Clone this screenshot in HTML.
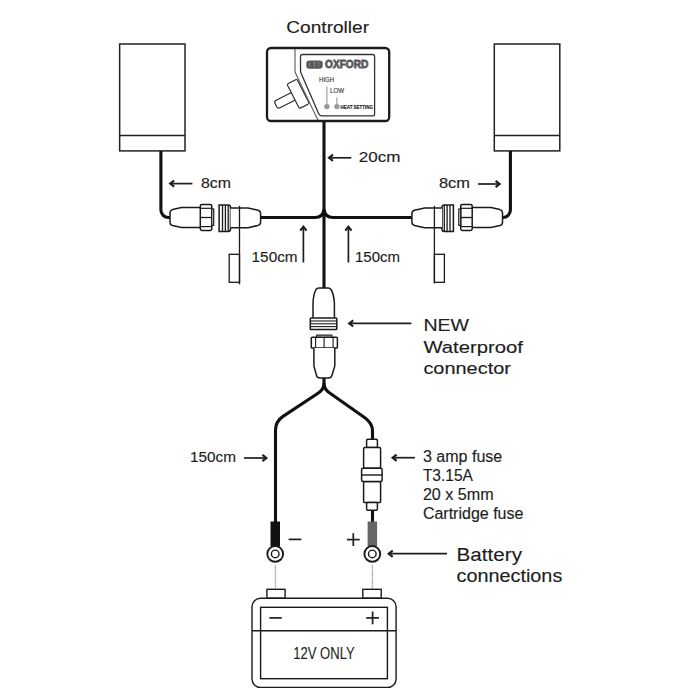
<!DOCTYPE html>
<html><head><meta charset="utf-8">
<style>
html,body{margin:0;padding:0;background:#fff;}
svg{display:block;}
text{font-family:"Liberation Sans",sans-serif;fill:#1e1e1e;stroke:#1e1e1e;stroke-width:0.15px;}
</style></head>
<body>
<svg width="700" height="700" viewBox="0 0 700 700">
<rect width="700" height="700" fill="#fff"/>
<defs>
  <g id="conn">
    <!-- body A -->
    <path d="M200.4,207.6 L181.5,207.6 L172.6,209.6 Q170,210.3 170,213 L170,222.2 Q170,224.9 172.6,225.6 L181.5,227.6 L200.4,227.6" fill="#fff" stroke="#1a1a1a" stroke-width="1.5"/>
    <!-- nut -->
    <rect x="200.3" y="204.5" width="11.5" height="25.9" rx="1.6" fill="#fff" stroke="#1a1a1a" stroke-width="1.5"/>
    <line x1="200.3" y1="208.3" x2="211.8" y2="208.3" stroke="#1a1a1a" stroke-width="1.2"/>
    <line x1="200.3" y1="217.5" x2="211.8" y2="217.5" stroke="#1a1a1a" stroke-width="1.3"/>
    <line x1="200.3" y1="226.6" x2="211.8" y2="226.6" stroke="#1a1a1a" stroke-width="1.2"/>
    <rect x="211.8" y="209" width="1.9" height="16.4" fill="#fff" stroke="#1a1a1a" stroke-width="1.2"/>
    <!-- thread -->
    <path d="M219.1,205.1 L228.3,205.1 Q230.5,205.1 230.5,207.3 L230.5,229.2 Q230.5,231.4 228.3,231.4 L219.1,231.4 Z" fill="#fff" stroke="#1a1a1a" stroke-width="1.5"/>
    <line x1="222.5" y1="205.1" x2="222.5" y2="231.4" stroke="#1a1a1a" stroke-width="1.3"/>
    <line x1="225.4" y1="205.1" x2="225.4" y2="231.4" stroke="#1a1a1a" stroke-width="1.3"/>
    <line x1="228.2" y1="205.1" x2="228.2" y2="231.4" stroke="#1a1a1a" stroke-width="1.3"/>
    <!-- body B -->
    <path d="M230.5,207.9 L248,207.9 L258,210.2 Q260.6,210.9 260.6,213.6 L260.6,222 Q260.6,224.7 258,225.4 L248,227.8 L230.5,227.8" fill="#fff" stroke="#1a1a1a" stroke-width="1.5"/>
  </g>
  <g id="up">
    <line x1="0" y1="0.8" x2="0" y2="36.5" stroke="#1e1e1e" stroke-width="1.7"/>
    <path d="M-3.1,4.6 L0,0.6 L3.1,4.6" fill="none" stroke="#1e1e1e" stroke-width="2.1"/>
  </g>
</defs>

<!-- Controller label -->
<text x="286.3" y="32.6" font-size="17.4" textLength="82.8" lengthAdjust="spacingAndGlyphs">Controller</text>

<!-- Heated grip boxes -->
<rect x="119.65" y="44" width="65.35" height="106.9" fill="none" stroke="#222" stroke-width="1.5"/>
<line x1="119.6" y1="135.4" x2="185" y2="135.4" stroke="#222" stroke-width="1.5"/>
<rect x="494.3" y="44" width="65.5" height="106.9" fill="none" stroke="#222" stroke-width="1.5"/>
<line x1="494.3" y1="135.4" x2="559.8" y2="135.4" stroke="#222" stroke-width="1.5"/>

<!-- wires -->
<g fill="none" stroke="#111" stroke-width="3.1">
  <path d="M160.9,151 L160.9,210 A7.5,7.5 0 0 0 168.4,217.5 L171,217.5"/>
  <path d="M510.4,151 L510.4,210 A7.5,7.5 0 0 1 502.9,217.5 L501,217.5"/>
  <path d="M324,121 L324,288"/>
  <path d="M259,217.5 L315,217.5 Q323,217.5 324,209.5"/>
  <path d="M412,217.5 L333,217.5 Q325,217.5 324,209.5"/>
  <path d="M324,378 L324,383 C324,388.5 321.5,391 316.5,394.3 L283,416.4 Q275.5,421.5 275.5,430 L275.5,522"/>
  <path d="M324,383 C324,388.5 326.5,391 331.5,394.3 L364.5,417.5 Q372.5,423 372.5,431 L372.5,440"/>
  <path d="M372.5,510 L372.5,522"/>
</g>

<!-- connectors -->
<use href="#conn"/>
<use href="#conn" transform="translate(672.5,0) scale(-1,1)"/>

<!-- vertical ticks & small rects -->
<g fill="none" stroke="#1a1a1a" stroke-width="1.3">
  <line x1="239.5" y1="205.8" x2="239.5" y2="284.3"/>
  <rect x="229.2" y="254.3" width="10.3" height="28"/>
  <line x1="434.4" y1="205.8" x2="434.4" y2="283.5"/>
  <rect x="434.4" y="254.3" width="10" height="28"/>
</g>

<!-- labels top -->
<g stroke="#1e1e1e" stroke-width="1.7" fill="none" stroke-linejoin="miter">
  <path d="M351.3,157.8 L329.2,157.8"/>
  <path d="M333.0,154.70000000000002 L329.0,157.8 L333.0,160.9" stroke-width="2.1"/>
  <path d="M192.4,183.6 L170.4,183.6"/>
  <path d="M174.2,180.5 L170.2,183.6 L174.2,186.7" stroke-width="2.1"/>
  <path d="M478,184 L499.4,184"/>
  <path d="M495.59999999999997,180.9 L499.59999999999997,184 L495.59999999999997,187.1" stroke-width="2.1"/>
  <path d="M244,458 L266.2,458"/>
  <path d="M262.4,454.9 L266.4,458 L262.4,461.1" stroke-width="2.1"/>
  <path d="M411.4,323.4 L349.40000000000003,323.4"/>
  <path d="M353.20000000000005,320.29999999999995 L349.20000000000005,323.4 L353.20000000000005,326.5" stroke-width="2.1"/>
  <path d="M414.9,457.7 L392.8,457.7"/>
  <path d="M396.6,454.59999999999997 L392.6,457.7 L396.6,460.8" stroke-width="2.1"/>
  <path d="M447,553.7 L388.90000000000003,553.7"/>
  <path d="M392.70000000000005,550.6 L388.70000000000005,553.7 L392.70000000000005,556.8000000000001" stroke-width="2.1"/>
</g>
<use href="#up" transform="translate(303.4,226)"/>
<use href="#up" transform="translate(348.4,226)"/>

<text x="358.7" y="161.9" font-size="15.4" textLength="41.7" lengthAdjust="spacingAndGlyphs">20cm</text>
<text x="201" y="187.6" font-size="14" textLength="30" lengthAdjust="spacingAndGlyphs">8cm</text>
<text x="439" y="187.6" font-size="14" textLength="31" lengthAdjust="spacingAndGlyphs">8cm</text>
<text x="251.6" y="262.2" font-size="15" textLength="46" lengthAdjust="spacingAndGlyphs">150cm</text>
<text x="355" y="262.4" font-size="15" textLength="45" lengthAdjust="spacingAndGlyphs">150cm</text>
<text x="190" y="462.4" font-size="15" textLength="46" lengthAdjust="spacingAndGlyphs">150cm</text>

<text x="423.4" y="331.4" font-size="17.4" textLength="45.6" lengthAdjust="spacingAndGlyphs">NEW</text>
<text x="423.4" y="352.9" font-size="17.4" textLength="99.5" lengthAdjust="spacingAndGlyphs">Waterproof</text>
<text x="423.4" y="373.7" font-size="17.4" textLength="87.5" lengthAdjust="spacingAndGlyphs">connector</text>

<text x="422.9" y="462.4" font-size="16" textLength="79.4" lengthAdjust="spacingAndGlyphs">3 amp fuse</text>
<text x="422.9" y="481.2" font-size="16.5" textLength="50" lengthAdjust="spacingAndGlyphs">T3.15A</text>
<text x="422.9" y="500.3" font-size="16" textLength="70.8" lengthAdjust="spacingAndGlyphs">20 x 5mm</text>
<text x="422.9" y="519.1" font-size="16" textLength="100.5" lengthAdjust="spacingAndGlyphs">Cartridge fuse</text>

<text x="456.6" y="560.6" font-size="18" textLength="65.4" lengthAdjust="spacingAndGlyphs">Battery</text>
<text x="456.6" y="582.3" font-size="18" textLength="105.7" lengthAdjust="spacingAndGlyphs">connections</text>

<!-- Controller box -->
<g transform="translate(298.15,93.8) rotate(-27)">
  <rect x="-25" y="-4.25" width="20.5" height="8.5" rx="2.5" fill="#fff" stroke="#2a2a2a" stroke-width="1.15"/>
  <rect x="-5.6" y="-13.7" width="11.2" height="27.4" rx="1.5" fill="#fff" stroke="#2a2a2a" stroke-width="1.15"/>
</g>
<path d="M295,48 L295,70.5 Q295,72 295.7,73.5 L318.3,121 L389,121 L389,48 Z" fill="#fff"/>
<path d="M295,48 L295,70.5 Q295,72 295.7,73.5 L318.3,121" fill="none" stroke="#666" stroke-width="1.2"/>
<rect x="267" y="48" width="122.2" height="73" rx="4" fill="none" stroke="#1a1a1a" stroke-width="2.3"/>
<path d="M300.5,56.5 Q300.5,54.5 302.5,54.5 L372.6,54.5 Q374.6,54.5 374.6,56.5 L374.6,113.9 Q374.6,115.9 372.6,115.9 L322,115.9 Q319.6,115.9 318.6,113.6 L301.2,73.5 Q300.5,72 300.5,70.2 Z" fill="none" stroke="#333" stroke-width="1.3"/>
<rect x="306.3" y="60.4" width="16.4" height="8.4" rx="3" fill="#5a5a5a"/>
<path d="M310,62.6 Q308.5,64.6 310,66.6 M314.3,61.6 L314.3,67.4 M317.5,62.4 Q320,62.8 318.6,64.6 Q317.6,66 319.4,66.6" fill="none" stroke="#b0b0b0" stroke-width="0.6"/>
<text x="325" y="67.9" font-size="10.6" font-weight="bold" style="fill:#5a5a5a;stroke:#5a5a5a;stroke-width:0.8px" textLength="43.4" lengthAdjust="spacingAndGlyphs">OXFORD</text>
<text x="319" y="82" font-size="6.4" style="stroke-width:0.12px;fill:#333;stroke:#333" textLength="15.2" lengthAdjust="spacingAndGlyphs">HIGH</text>
<text x="330" y="93.4" font-size="6.4" style="stroke-width:0.12px;fill:#333;stroke:#333" textLength="14" lengthAdjust="spacingAndGlyphs">LOW</text>
<g stroke="#999" stroke-width="1.1">
  <line x1="326.9" y1="86.6" x2="326.9" y2="105"/>
  <line x1="336.9" y1="97.4" x2="336.9" y2="105"/>
</g>
<circle cx="326.9" cy="106.6" r="2.7" fill="#999"/>
<circle cx="336.9" cy="106.6" r="2.7" fill="#999"/>
<text x="340.6" y="108.6" font-size="4.8" font-weight="bold" style="stroke-width:0.15px" textLength="32.3" lengthAdjust="spacingAndGlyphs">HEAT SETTING</text>

<!-- waterproof connector -->
<g fill="#fff" stroke="#1a1a1a" stroke-width="1.5">
  <path d="M313,317.7 L313,303 Q313.5,294 316,289.5 Q317,287.9 319,287.9 L328,287.9 Q330,287.9 331,289.5 Q333.8,294 334.4,303 L334.4,317.7"/>
  <rect x="310.3" y="318.1" width="26.5" height="11.4" rx="0.8"/>
  <rect x="316.4" y="335.1" width="15.7" height="2.1" rx="0.8" stroke-width="1.1"/>
  <rect x="311.3" y="337.2" width="26.1" height="10.8" rx="0.8"/>
  <path d="M313.9,348 L313.9,366 L316.5,375.5 Q317.2,378 320,378 L328.5,378 Q331.2,378 331.9,375.5 L334.8,366 L334.8,348"/>
</g>
<g stroke="#1a1a1a" stroke-width="1.1">
  <line x1="310.3" y1="321" x2="336.8" y2="321"/>
  <line x1="310.3" y1="323.8" x2="336.8" y2="323.8"/>
  <line x1="310.3" y1="326.6" x2="336.8" y2="326.6"/>
  <line x1="315.6" y1="337.2" x2="315.6" y2="348"/>
  <line x1="324.1" y1="337.2" x2="324.1" y2="348"/>
  <line x1="333.1" y1="337.2" x2="333.1" y2="348"/>
</g>

<!-- fuse -->
<g fill="#fff" stroke="#1a1a1a" stroke-width="1.5">
  <rect x="366.6" y="439.3" width="10.8" height="8.3" rx="1.2"/>
  <rect x="363.6" y="447.5" width="17" height="20.8" rx="1.2"/>
  <rect x="363.6" y="481.4" width="17" height="21.2" rx="1.2"/>
  <rect x="366.6" y="502.6" width="10.8" height="7.7" rx="1.2"/>
  <rect x="361.6" y="468.3" width="20.5" height="13.1" rx="1.5"/>
</g>
<line x1="361.6" y1="475" x2="382.1" y2="475" stroke="#1a1a1a" stroke-width="1.4"/>

<!-- terminals -->
<rect x="270.5" y="521.5" width="9.5" height="25" fill="#111"/>
<rect x="367.6" y="521.5" width="9.5" height="25" fill="#666"/>
<g fill="#fff" stroke="#1a1a1a">
<circle cx="275.2" cy="553.9" r="7.9" stroke-width="1.9"/>
<circle cx="275.2" cy="553.9" r="3.8" stroke-width="1.4"/>
<circle cx="372.3" cy="553.9" r="7.9" stroke-width="1.9"/>
<circle cx="372.3" cy="553.9" r="3.8" stroke-width="1.4"/>
</g>
<g stroke="#1e1e1e" stroke-width="1.7">
  <line x1="288.6" y1="539.4" x2="301.4" y2="539.4"/>
  <line x1="346.9" y1="539.6" x2="359.7" y2="539.6"/>
  <line x1="353.3" y1="533.2" x2="353.3" y2="546"/>
</g>
<g stroke="#555" stroke-width="1" stroke-dasharray="1,1">
  <line x1="275.3" y1="565.3" x2="275.3" y2="589"/>
  <line x1="372.3" y1="565.3" x2="372.3" y2="589"/>
</g>

<!-- battery -->
<g fill="#fff" stroke="#1a1a1a" stroke-width="1.4">
  <rect x="266.9" y="589.3" width="18.2" height="8.9"/>
  <rect x="362.8" y="589.3" width="18.4" height="8.9"/>
  <rect x="252" y="598.2" width="144.1" height="89.2" rx="8.5"/>
  <rect x="260.6" y="607.3" width="126.8" height="71.4"/>
</g>
<line x1="252" y1="630.7" x2="396.1" y2="630.7" stroke="#1a1a1a" stroke-width="1.4"/>
<g stroke="#1e1e1e" stroke-width="1.7">
  <line x1="269.3" y1="617.9" x2="281.7" y2="617.9"/>
  <line x1="366.2" y1="617.9" x2="379" y2="617.9"/>
  <line x1="372.6" y1="611.5" x2="372.6" y2="624.3"/>
</g>
<text x="293.3" y="659.3" font-size="16.3" style="stroke-width:0.1px" textLength="61.3" lengthAdjust="spacingAndGlyphs">12V ONLY</text>
</svg>
</body></html>
